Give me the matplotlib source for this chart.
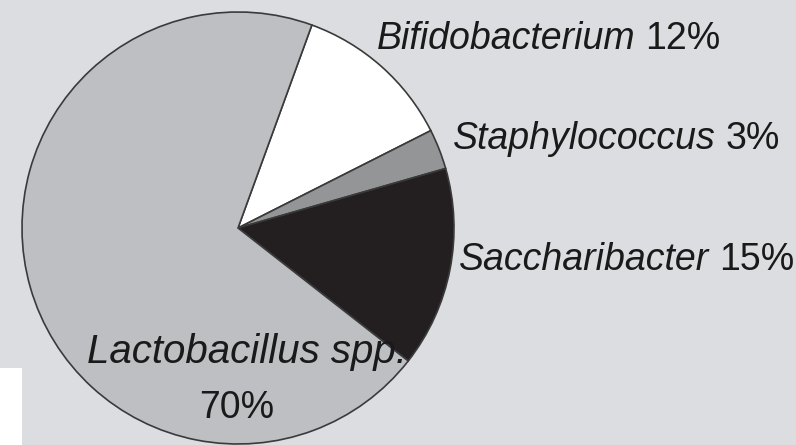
import matplotlib
matplotlib.use("Agg")
import matplotlib.pyplot as plt

# Share of isolates per genus (%), drawn clockwise from the top
genera = ["Bifidobacterium", "Staphylococcus", "Saccharibacter", "Lactobacillus spp."]
shares = [12, 3, 15, 70]
colors = ["#ffffff", "#949596", "#231f20", "#bebfc3"]

W, H = 796, 445
BG = "#dcdde0"
fig = plt.figure(figsize=(W / 100, H / 100), dpi=100)
fig.patch.set_facecolor(BG)
ax = fig.add_axes([0, 0, 1, 1])
ax.set_facecolor(BG)

# small white panel in the lower-left corner
ax.add_patch(plt.Rectangle((0, 368), 22, 77, facecolor="white", edgecolor="none", zorder=0))

# with the y axis inverted below, counterclock=True runs clockwise on screen
ax.pie(shares, colors=colors, center=(238, 228), radius=216,
       startangle=-70, counterclock=True, frame=True,
       wedgeprops=dict(edgecolor="#3a3a3a", linewidth=1.2))
ax.set_xlim(0, W)
ax.set_ylim(H, 0)          # pixel-style coordinates, y grows downwards
ax.set_aspect("auto")
ax.set_axis_off()

family = "Liberation Sans"
ink = "#1a1a1a"


def side_label(x, y, name, pct, fs=27):
    """Italic genus name followed by an upright percentage."""
    t = ax.text(x, y, name, fontsize=fs, family=family, style="italic",
                ha="left", va="baseline", color=ink)
    fig.canvas.draw()
    bb = t.get_window_extent()
    x_end = ax.transData.inverted().transform((bb.x1, bb.y0))[0]
    ax.text(x_end + 10, y, f"{pct}%", fontsize=fs, family=family,
            ha="left", va="baseline", color=ink)


side_label(377, 49, genera[0], shares[0])
side_label(453, 149, genera[1], shares[1])
side_label(459, 270, genera[2], shares[2])

ax.text(247, 363, genera[3], fontsize=29, family=family, style="italic",
        ha="center", va="baseline", color=ink)
ax.text(237, 418, f"{shares[3]}%", fontsize=27, family=family,
        ha="center", va="baseline", color=ink)

fig.savefig("out.png", dpi=100, facecolor=fig.get_facecolor())
